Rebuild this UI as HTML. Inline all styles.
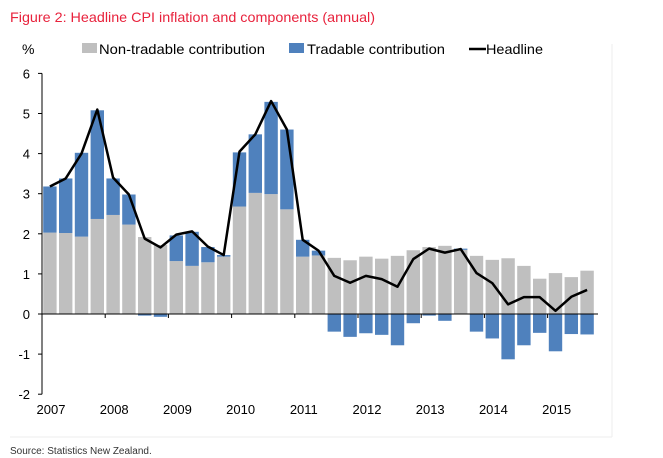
<!DOCTYPE html>
<html><head><meta charset="utf-8"><style>
body{margin:0;background:#fff;}
svg{display:block;font-family:"Liberation Sans",Arial,sans-serif;}
</style></head><body>
<svg id="c" width="663" height="458" xmlns="http://www.w3.org/2000/svg">
<text x="10" y="22" font-size="14" fill="#e8223c" textLength="365" lengthAdjust="spacingAndGlyphs">Figure 2: Headline CPI inflation and components (annual)</text>
<line x1="612" y1="44" x2="612" y2="437" stroke="#eeeeee"/>
<line x1="10" y1="437" x2="612" y2="437" stroke="#eeeeee"/>
<text x="22" y="54" font-size="14" fill="#000">%</text>
<g>
<rect x="82" y="43" width="15" height="10" fill="#bfbfbf"/>
<text x="99" y="54" font-size="14" textLength="166" lengthAdjust="spacingAndGlyphs">Non-tradable contribution</text>
<rect x="289" y="43" width="15" height="10" fill="#4f81bd"/>
<text x="307" y="54" font-size="14" textLength="138" lengthAdjust="spacingAndGlyphs">Tradable contribution</text>
<line x1="469" y1="49" x2="486" y2="49" stroke="#000" stroke-width="2.5"/>
<text x="486" y="54" font-size="14" textLength="57" lengthAdjust="spacingAndGlyphs">Headline</text>
</g>
<text x="10" y="454" font-size="10" fill="#333">Source: Statistics New Zealand.</text>
<g id="plot"></g>
</svg>
<script>
const years=["2007","2008","2009","2010","2011","2012","2013","2014","2015"];
const yTicks=[-2,-1,0,1,2,3,4,5,6];
const nonTradable=[2.03,2.02,1.93,2.37,2.47,2.23,1.92,1.72,1.32,1.2,1.29,1.43,2.68,3.02,2.99,2.61,1.43,1.46,1.4,1.34,1.43,1.38,1.45,1.59,1.67,1.7,1.6,1.45,1.35,1.39,1.2,0.88,1.02,0.92,1.08];
const tradable=[1.15,1.36,2.09,2.71,0.91,0.75,-0.04,-0.07,0.64,0.85,0.38,0.04,1.35,1.46,2.3,1.99,0.42,0.12,-0.44,-0.57,-0.48,-0.52,-0.78,-0.23,-0.04,-0.17,0.03,-0.44,-0.61,-1.13,-0.78,-0.47,-0.93,-0.5,-0.51];
const headline=[3.18,3.38,4.0,5.1,3.4,2.98,1.88,1.66,1.98,2.06,1.68,1.47,4.05,4.48,5.31,4.6,1.85,1.58,0.95,0.78,0.95,0.87,0.68,1.37,1.63,1.53,1.62,1.02,0.77,0.24,0.42,0.42,0.08,0.43,0.6];

const NS="http://www.w3.org/2000/svg";
const g=document.getElementById('plot');
const x0=42, q=15.8, zeroY=314, unit=40.1;
const y=v=>zeroY-v*unit;
const xc=i=>x0+q*i+q/2;
function mk(t,a){const e=document.createElementNS(NS,t);for(const k in a)e.setAttribute(k,a[k]);g.appendChild(e);return e;}

nonTradable.forEach((v,i)=>{
  const b=mk('rect',{x:xc(i)-6.7,y:Math.min(y(v),zeroY),width:13.4,height:Math.abs(y(v)-zeroY),fill:'#bfbfbf'});
  
  
});
tradable.forEach((v,i)=>{
  const base=v>=0?Math.max(nonTradable[i],0):Math.min(nonTradable[i],0);
  const a=y(base), c=y(base+v);
  const b=mk('rect',{x:xc(i)-6.7,y:Math.min(a,c),width:13.4,height:Math.abs(a-c),fill:'#4f81bd'});
  
  
});
const ax=mk('line',{x1:x0,y1:y(6),x2:x0,y2:y(-2),stroke:'#000','stroke-width':1});


const xa=mk('line',{x1:x0,y1:zeroY,x2:x0+q*35+3,y2:zeroY,stroke:'#000','stroke-width':1});


yTicks.forEach(v=>{
  const t=mk('line',{x1:x0-4,y1:y(v),x2:x0,y2:y(v),stroke:'#000'});
  
  
  const l=mk('text',{x:30,y:y(v)+5,'font-size':13,'text-anchor':'end'});
  l.textContent=v;
  
  
});
years.forEach((yr,i)=>{
  const xx=x0+i*4*q;
  const t=mk('line',{x1:xx,y1:zeroY,x2:xx,y2:zeroY+4,stroke:'#000'});
  
  
  const l=mk('text',{x:xx+9,y:414,'font-size':13,'text-anchor':'middle'});
  l.textContent=yr;
  
  
});
const p=mk('polyline',{points:headline.map((v,i)=>xc(i)+','+y(v)).join(' '),fill:'none',stroke:'#000','stroke-width':2.5,'stroke-linejoin':'round'});


</script>
</body></html>
